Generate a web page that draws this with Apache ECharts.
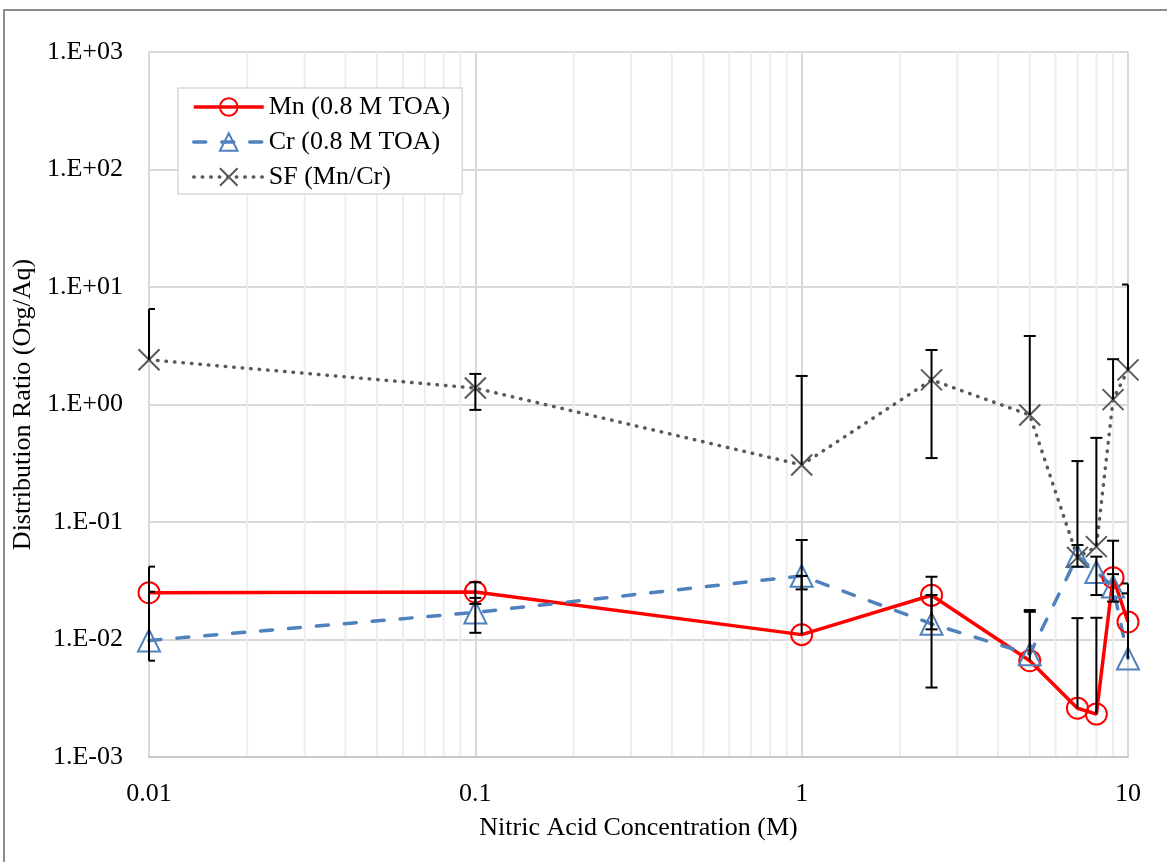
<!DOCTYPE html>
<html>
<head>
<meta charset="utf-8">
<script src="https://cdn.jsdelivr.net/npm/echarts@6/dist/echarts.min.js"></script>
<style>
html,body{margin:0;padding:0;background:#fff;}
#chart{width:1167px;height:862px;}
</style>
</head>
<body>
<div id="chart"></div>
<script>
// ---- data ----
const concentrations = [0.01, 0.1, 1, 2.5, 5, 7, 8, 9, 10];
const mnD = [0.0250, 0.0254, 0.0110, 0.0238, 0.0066, 0.0026, 0.00232, 0.0336, 0.0141];
const crD = [0.0098, 0.0170, 0.0348, 0.0136, 0.0075, 0.0514, 0.0375, 0.0282, 0.0069];
const sfD = [2.40, 1.38, 0.306, 1.62, 0.814, 0.050, 0.0617, 1.10, 1.97];
// error bar ends (null = not drawn)
const mnErrLow  = [null, 0.0201, null, 0.0122, null, null, null, null, null];
const mnErrHigh = [0.0417, 0.0307, 0.0347, 0.0342, 0.0172, 0.0152, 0.0153, 0.0693, 0.0300];
const crErrLow  = [0.0066, 0.0114, 0.0267, 0.0039, null, 0.0417, 0.0239, 0.0210, null];
const crErrHigh = [0.0255, 0.0226, 0.0703, 0.0239, 0.0178, 0.0637, 0.0507, 0.0360, 0.0247];
const sfErrLow  = [null, 0.90, null, 0.35, null, null, null, null, null];
const sfErrHigh = [6.5, 1.82, 1.75, 2.91, 3.83, 0.33, 0.52, 2.43, 10.5];
const xMinorTicks = [0.02,0.03,0.04,0.05,0.06,0.07,0.08,0.09,0.2,0.3,0.4,0.5,0.6,0.7,0.8,0.9,2,3,4,5,6,7,8,9];
const seriesNames = ['Mn (0.8 M TOA)', 'Cr (0.8 M TOA)', 'SF (Mn/Cr)'];
const xTitle = 'Nitric Acid Concentration (M)';
const yTitle = 'Distribution Ratio (Org/Aq)';

const FONT = 'Liberation Serif';
const FS = 26;

function pts(vals){ return concentrations.map((x,i)=>[x, vals[i]]); }
function errData(vals, lo, hi){
  return concentrations.map((x,i)=>[x,
    lo[i]==null ? vals[i] : lo[i],
    hi[i]==null ? vals[i] : hi[i],
    lo[i]==null ? 0 : 1,
    hi[i]==null ? 0 : 1]);
}
function errRender(params, api){
  const x = api.value(0);
  const pLo = api.coord([x, api.value(1)]);
  const pHi = api.coord([x, api.value(2)]);
  const cs = params.coordSys;
  const half = 6;
  const children = [{type:'line', shape:{x1:pLo[0],y1:pLo[1],x2:pHi[0],y2:pHi[1]}, style:{stroke:'#000',lineWidth:2}}];
  const cap = (p)=>({type:'line', shape:{x1:Math.max(cs.x,p[0]-half),y1:p[1],x2:Math.min(cs.x+cs.width,p[0]+half),y2:p[1]}, style:{stroke:'#000',lineWidth:2}});
  if (api.value(3)) children.push(cap(pLo));
  if (api.value(4)) children.push(cap(pHi));
  return {type:'group', children};
}
function minorRender(params, api){
  const v = api.value(0);
  const a = api.coord([v, 0.001]);
  const b = api.coord([v, 1000]);
  return {type:'line', shape:{x1:a[0],y1:a[1],x2:b[0],y2:b[1]}, style:{stroke:'#EDEDED',lineWidth:2}};
}

const styles = [
  {line:{color:'#FF0000',width:3.5}, item:{color:'rgba(255,255,255,0)',borderColor:'#FF0000',borderWidth:2}},
  {line:{color:'#4F81BD',width:3.5,type:[12,16],cap:'round'}, item:{color:'rgba(255,255,255,0)',borderColor:'#4F81BD',borderWidth:2}},
  {line:{color:'#595959',width:3.5,type:[0.5,8],cap:'round'}, item:{color:'rgba(0,0,0,0)',borderColor:'#595959',borderWidth:2}}
];

const chart = echarts.init(document.getElementById('chart'), null, {renderer:'canvas'});
chart.setOption({
  animation:false,
  backgroundColor:'#fff',
  textStyle:{fontFamily:FONT},
  graphic:[{type:'rect', shape:{x:4,y:10,width:1200,height:900}, style:{fill:'none',stroke:'#8c8c8c',lineWidth:2}, z:-1}],
  grid:{left:149,right:39,top:52,bottom:105,containLabel:false},
  legend:{
    data:seriesNames.map((n,i)=>({name:n, lineStyle:styles[i].line, itemStyle:styles[i].item})),
    left:178, top:88, orient:'vertical',
    padding:[6,12,4,14], itemGap:9, itemWidth:70, itemHeight:22,
    borderColor:'#D9D9D9', borderWidth:1.5, backgroundColor:'#fff',
    textStyle:{fontFamily:FONT,fontSize:FS,color:'#000'}
  },
  xAxis:{
    type:'log', logBase:10, min:0.01, max:10,
    name:xTitle, nameLocation:'middle', nameGap:58,
    nameTextStyle:{fontFamily:FONT,fontSize:FS,color:'#000'},
    axisLine:{show:true,lineStyle:{color:'#C8C8C8',width:2}},
    axisTick:{show:false},
    axisLabel:{fontFamily:FONT,fontSize:FS,color:'#000',margin:24,
      formatter:v=>String(parseFloat(Number(v).toPrecision(3)))},
    splitLine:{show:true,lineStyle:{color:'#D9D9D9',width:2}}
  },
  yAxis:{
    type:'log', logBase:10, min:0.001, max:1000,
    name:yTitle, nameLocation:'middle', nameGap:101,
    nameTextStyle:{fontFamily:FONT,fontSize:FS,color:'#000'},
    axisLine:{show:true,lineStyle:{color:'#D9D9D9',width:2}},
    axisTick:{show:false},
    axisLabel:{fontFamily:FONT,fontSize:FS,color:'#000',margin:26,
      formatter:v=>{const e=Math.round(Math.log10(v));return '1.E'+(e<0?'-':'+')+String(Math.abs(e)).padStart(2,'0');}},
    splitLine:{show:true,lineStyle:{color:'#D9D9D9',width:2}}
  },
  series:[
    {type:'custom', name:'minor', renderItem:minorRender, data:xMinorTicks.map(v=>[v]), encode:{x:0}, z:0, silent:true},
    {type:'line', name:seriesNames[0], data:pts(mnD), symbol:'circle', symbolSize:21,
      lineStyle:styles[0].line, itemStyle:styles[0].item, z:3},
    {type:'line', name:seriesNames[1], data:pts(crD), symbol:'triangle', symbolSize:22,
      lineStyle:styles[1].line, itemStyle:styles[1].item, z:3},
    {type:'line', name:seriesNames[2], data:pts(sfD), symbol:'path://M0,0L20,20M20,0L0,20', symbolSize:21,
      lineStyle:styles[2].line, itemStyle:styles[2].item, z:3},
    {type:'custom', name:'errMn', renderItem:errRender, data:errData(mnD,mnErrLow,mnErrHigh), encode:{x:0,y:[1,2]}, z:4, silent:true},
    {type:'custom', name:'errCr', renderItem:errRender, data:errData(crD,crErrLow,crErrHigh), encode:{x:0,y:[1,2]}, z:4, silent:true},
    {type:'custom', name:'errSF', renderItem:errRender, data:errData(sfD,sfErrLow,sfErrHigh), encode:{x:0,y:[1,2]}, z:4, silent:true}
  ]
});
</script>
</body>
</html>
